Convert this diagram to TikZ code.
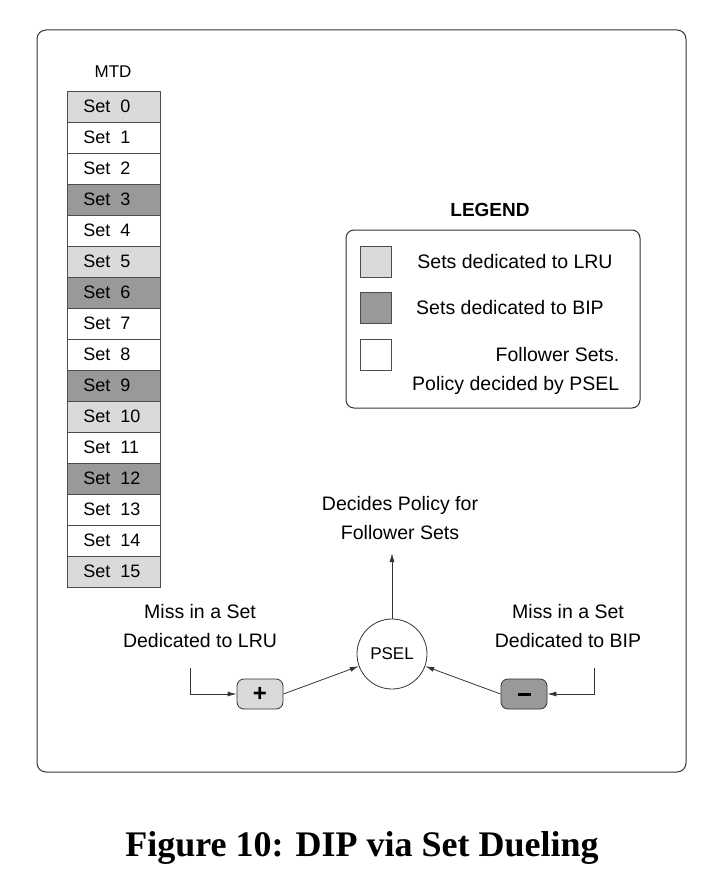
\documentclass[tikz,border=0pt]{standalone}
\usepackage{fontspec}
\setmainfont{Liberation Sans}
\newfontfamily\capfont{Liberation Serif}
\usetikzlibrary{arrows.meta}
\definecolor{lru}{HTML}{DADADA}
\definecolor{bip}{HTML}{999999}
\begin{document}
\begin{tikzpicture}[x=1pt,y=-1pt, line width=0.8pt,
  txt/.style={font=\fontsize{19.5}{23}\selectfont, align=center},
  setc/.style={draw=black!70, minimum width=93pt, minimum height=31pt, inner sep=0pt, anchor=north west},
  sq/.style={draw=black!70, minimum size=31pt, inner sep=0pt},
  arr/.style={-{Latex[length=9pt,width=5pt]}, black!80}]
\useasboundingbox (0,0) rectangle (726,888);
\draw[rounded corners=9pt, black!80, line width=1pt] (37,30) rectangle (686,772);
\node[font=\fontsize{17}{20}\selectfont] (mtd) at (113,72) {MTD};
\foreach \i/\c in {0/lru,1/white,2/white,3/bip,4/white,5/lru,6/bip,7/white,8/white,9/bip,10/lru,11/white,12/bip,13/white,14/white,15/lru}{
  \node[setc, fill=\c] (s\i) at (67,{91+31*\i}) {};
  \node[anchor=west, font=\fontsize{18}{20}\selectfont, inner sep=0pt] (l\i) at (83,{106.5+31*\i}) {Set\ \ \i};
}
\node[font=\bfseries\fontsize{19}{22}\selectfont] (leg) at (490,210) {LEGEND};
\draw[rounded corners=8pt, black!80, line width=1pt] (346,230) rectangle (640,408);
\node[sq, fill=lru] (q1) at (376,262) {};
\node[sq, fill=bip] (q2) at (376,308) {};
\node[sq, fill=white] (q3) at (376,355) {};
\node[txt] (t1) at (515,262) {Sets dedicated to LRU};
\node[txt] (t2) at (510,308) {Sets dedicated to BIP};
\node[txt, align=right, anchor=east] (t3) at (623,371) {Follower Sets.\\[6pt]Policy decided by PSEL};
\node[draw, circle, minimum size=70pt, inner sep=0pt, font=\fontsize{17}{20}\selectfont, black!80, text=black] (psel) at (392,654) {PSEL};
\node[draw=black!80, fill=lru, rounded corners=7pt, minimum width=46pt, minimum height=30pt, inner sep=0pt, font=\bfseries\fontsize{24}{24}\selectfont] (plus) at (260,694) {+};
\node[draw=black!80, fill=bip, rounded corners=7pt, minimum width=46pt, minimum height=30pt, inner sep=0pt] (minus) at (524,694) {\rule[-1pt]{13pt}{3pt}};
\node[txt, align=center] (dec) at (400,518) {Decides Policy for\\[6pt]Follower Sets};
\node[txt] (ml) at (200,626) {Miss in a Set\\[6pt]Dedicated to LRU};
\node[txt] (mr) at (568,626) {Miss in a Set\\[6pt]Dedicated to BIP};
\coordinate (top) at (392,553);
\coordinate (lc) at (190,668);
\coordinate (rc) at (594,668);
\draw[arr] (psel.north) -- (top);
\draw[arr] (lc) |- (plus.west);
\draw[arr] (rc) |- (minus.east);
\draw[arr] (plus.east) -- (psel);
\draw[arr] (minus.west) -- (psel);
\node[font=\capfont\bfseries\fontsize{36}{40}\selectfont] (cap) at (362,848) {Figure 10: DIP via Set Dueling};
\end{tikzpicture}
\end{document}
